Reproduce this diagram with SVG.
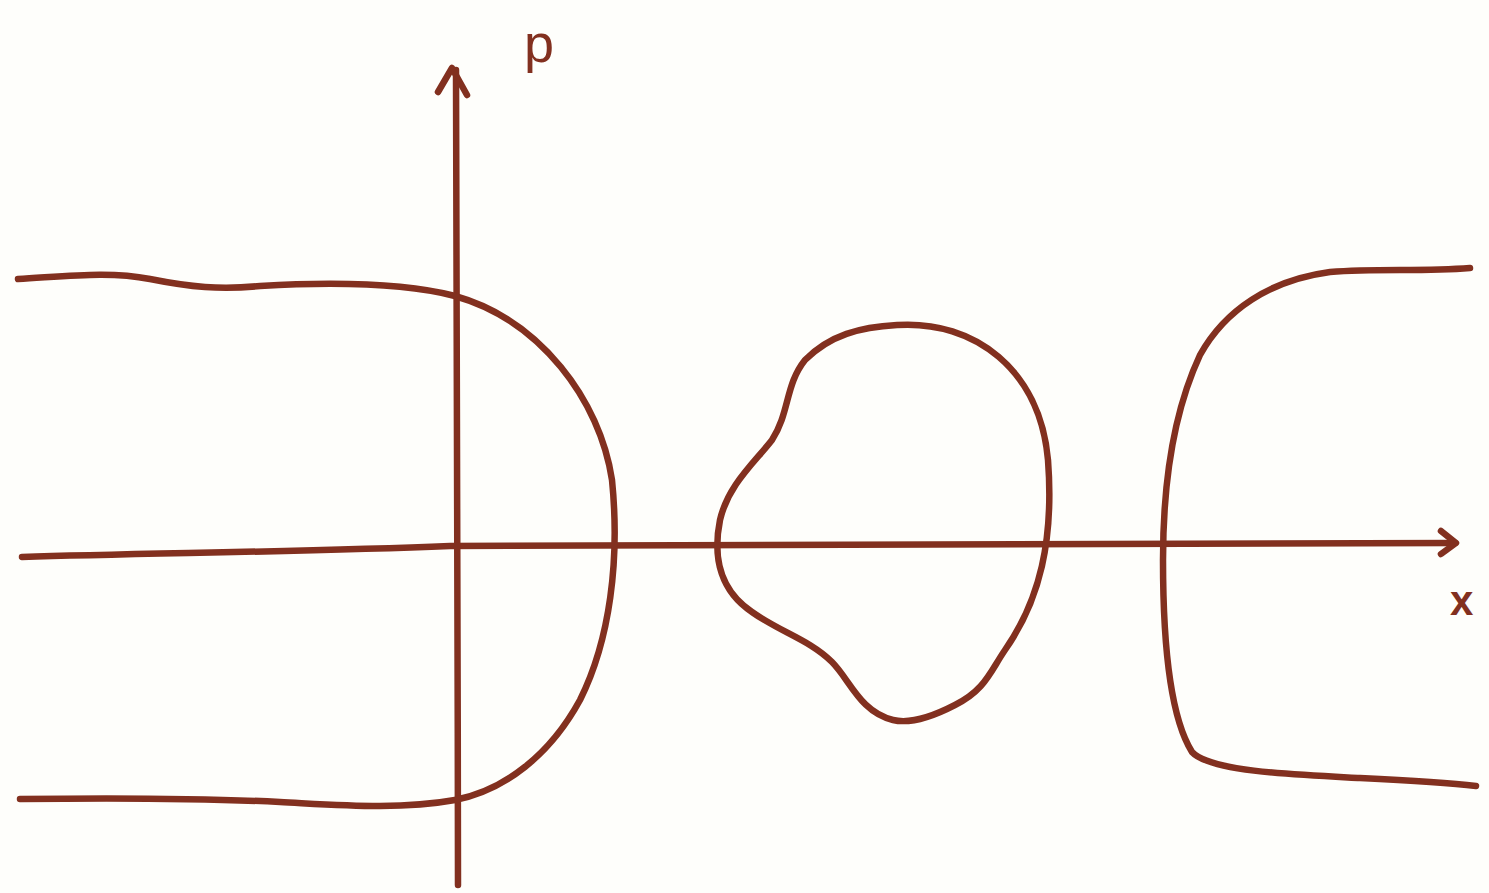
<svg xmlns="http://www.w3.org/2000/svg" width="1489" height="893" viewBox="0 0 1489 893">
<style>
.c{fill:none;stroke:#82301f;stroke-width:6.5;stroke-linecap:round;stroke-linejoin:round}
.t{font-family:"Liberation Sans",sans-serif;fill:#82301f}
</style>
<rect width="1489" height="893" fill="#fefefb"/>
<g id="axes">
<path class="c" d="M22,557 C150,553 300,552 450,546 C700,543 1000,543 1455,543"/>
<path class="c" d="M1441,531 L1456,543 L1441,554"/>
<path class="c" d="M456,70 C455,300 458,600 458,885"/>
<path class="c" d="M438,92 L452,68 L467,95"/>
</g>
<g id="curves">
<path class="c" d="M18,279 C70,276 110,271 150,279 C190,287 220,290 260,286 C330,282 400,282 455,296 C540,320 600,400 612,480 C620,560 610,640 580,700 C550,755 505,790 455,800 C400,810 340,805 280,802 C200,798 100,798 20,799"/>
<path class="c" d="M897,325 C975,320 1040,370 1048,460 C1054,540 1040,600 1005,650 C990,672 985,690 955,705 C930,718 910,724 893,720 C860,712 850,680 832,662 C810,640 780,632 752,612 C722,592 712,560 720,520 C728,485 755,462 772,440 C790,412 785,385 805,360 C830,335 860,327 897,325 Z"/>
<path class="c" d="M1470,268 C1420,272 1380,268 1330,272 C1270,280 1225,310 1200,355 C1172,415 1163,490 1163,560 C1163,650 1172,720 1192,752 C1210,772 1300,775 1360,778 C1420,781 1450,783 1476,786"/>
</g>
<g id="labels">
<text class="t" x="524" y="62" font-size="54">p</text>
<text class="t" x="1450" y="615" font-size="42" font-weight="bold">x</text>
</g>
</svg>
